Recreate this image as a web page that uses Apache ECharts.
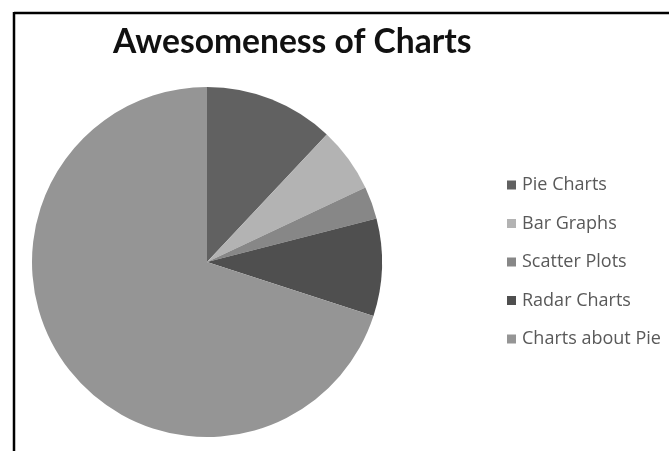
<!DOCTYPE html>
<html>
<head>
<meta charset="utf-8">
<script src="https://cdn.jsdelivr.net/npm/echarts@6/dist/echarts.min.js"></script>
<style>
html,body{margin:0;padding:0;background:#fff;}
#chart{width:669px;height:451px;}
</style>
</head>
<body>
<div id="chart"></div>
<script>
const titleText = "Awesomeness of Charts";
const categories = ["Pie Charts", "Bar Graphs", "Scatter Plots", "Radar Charts", "Charts about Pie"];
const values = [12, 6, 3, 9, 70];
const colors = ["#616161", "#b3b3b3", "#878787", "#4f4f4f", "#959595"];

const chart = echarts.init(document.getElementById('chart'));
chart.setOption({
  animation: false,
  backgroundColor: '#fff',
  color: colors,
  title: {
    text: titleText,
    left: 108,
    top: 20,
    textStyle: {fontFamily: 'Lato', fontWeight: 'bold', fontSize: 33.6, color: '#111'}
  },
  legend: {
    orient: 'vertical',
    left: 507,
    top: 176,
    padding: 0,
    itemWidth: 9,
    itemHeight: 9,
    itemGap: 20.5,
    icon: 'rect',
    data: categories,
    textStyle: {fontFamily: 'Open Sans', fontSize: 18, color: '#595959', lineHeight: 18, padding: [0,0,0,1]}
  },
  graphic: [
    {type: 'line', shape: {x1: 14, y1: 13, x2: 669, y2: 13}, style: {stroke: '#000', lineWidth: 2.5}, silent: true},
    {type: 'line', shape: {x1: 14, y1: 12, x2: 14, y2: 451}, style: {stroke: '#000', lineWidth: 2.5}, silent: true}
  ],
  series: [{
    type: 'pie',
    center: [207, 262],
    radius: 175,
    startAngle: 90,
    clockwise: true,
    label: {show: false},
    labelLine: {show: false},
    itemStyle: {borderWidth: 0},
    emphasis: {disabled: true},
    data: categories.map((c, i) => ({name: c, value: values[i]}))
  }]
});
</script>
</body>
</html>
